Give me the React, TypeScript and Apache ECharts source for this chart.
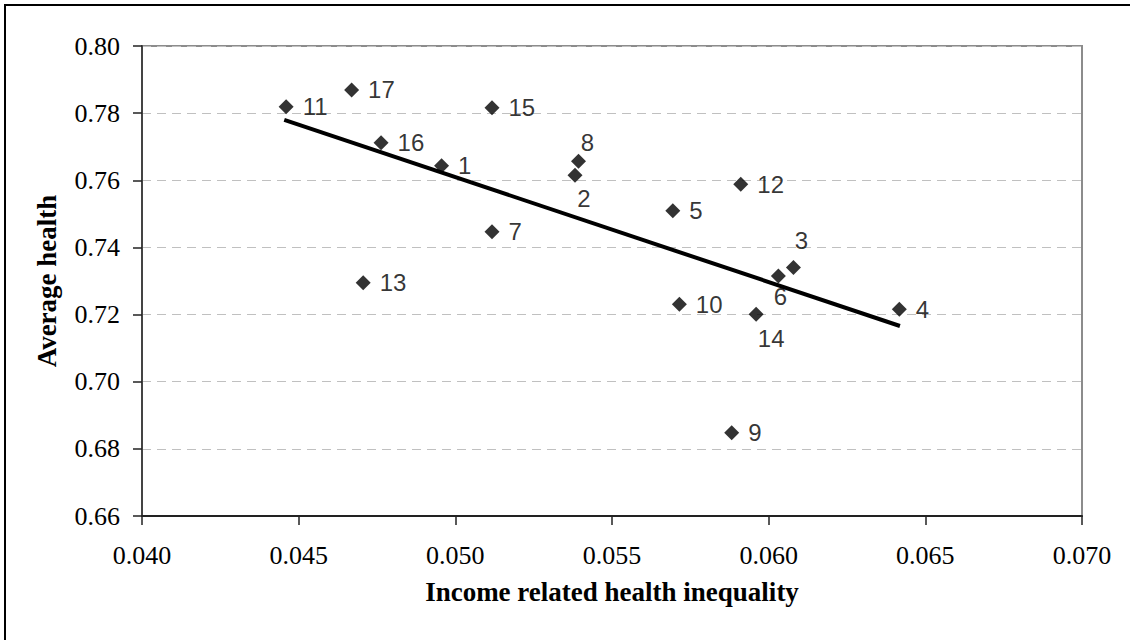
import React, { useEffect, useRef } from "react";
import * as echarts from "echarts";

// Data
const pointIds = ["1", "2", "3", "4", "5", "6", "7", "8", "9", "10", "11", "12", "13", "14", "15", "16", "17"];
const inequality = [0.04956, 0.05382, 0.06079, 0.06417, 0.05694, 0.06031, 0.05117, 0.05393, 0.05882, 0.05715, 0.0446, 0.05911, 0.04706, 0.0596, 0.05117, 0.04763, 0.04669];
const avgHealth = [0.7643, 0.7615, 0.734, 0.7216, 0.7509, 0.7315, 0.7447, 0.7657, 0.6848, 0.7231, 0.7819, 0.7588, 0.7295, 0.7201, 0.7816, 0.7712, 0.7869];
const trendX = [0.04454, 0.06419];
const trendY = [0.778, 0.7166];

const xTickLabels = ["0.040", "0.045", "0.050", "0.055", "0.060", "0.065", "0.070"];
const yTickLabels = ["0.66", "0.68", "0.70", "0.72", "0.74", "0.76", "0.78", "0.80"];

// label placement (styling) for points whose label is not to the right
const labelOffsets: Record<string, [number, number]> = {
  "8": [9, -19],
  "2": [9, 23],
  "3": [8, -27],
  "6": [2, 21],
  "14": [15, 24],
};

export default function App() {
  const ref = useRef<HTMLDivElement>(null);
  useEffect(() => {
    document.body.style.margin = "0";
    const chart = echarts.init(ref.current!, null, { renderer: "svg" });
    const serif = "Liberation Serif";
    const sans = "Liberation Sans";
    const scatterData = pointIds.map((id, i) => {
      const off = labelOffsets[id];
      const item: any = { value: [inequality[i], avgHealth[i]], name: id };
      if (off) {
        item.label = { position: "inside", offset: off, align: "center", verticalAlign: "middle" };
      }
      return item;
    });
    chart.setOption({
      animation: false,
      backgroundColor: "#ffffff",
      textStyle: { fontFamily: serif },
      grid: {
        left: 142,
        top: 46,
        right: 48,
        bottom: 124,
        show: true,
        borderColor: "#8c8c8c",
        borderWidth: 2,
        backgroundColor: "transparent",
      },
      graphic: [
        {
          type: "rect",
          shape: { x: 5, y: 5, width: 1140, height: 650 },
          style: { fill: "none", stroke: "#000", lineWidth: 2 },
          silent: true,
          z: -10,
        },
      ],
      xAxis: {
        type: "value",
        min: 0.04,
        max: 0.07,
        interval: 0.005,
        name: "Income related health inequality",
        nameLocation: "middle",
        nameGap: 62,
        nameTextStyle: { fontFamily: serif, fontWeight: "bold", fontSize: 27, color: "#000" },
        axisLine: { show: true, lineStyle: { color: "#222", width: 2 } },
        axisTick: { show: true, length: 9, lineStyle: { color: "#222", width: 1.5 } },
        axisLabel: {
          margin: 26,
          fontFamily: serif,
          fontSize: 26,
          color: "#000",
          formatter: (v: number) => xTickLabels[Math.round((v - 0.04) / 0.005)] ?? v.toFixed(3),
        },
        splitLine: { show: false },
      },
      yAxis: {
        type: "value",
        min: 0.66,
        max: 0.8,
        interval: 0.02,
        name: "Average health",
        nameLocation: "middle",
        nameGap: 82,
        nameTextStyle: { fontFamily: serif, fontWeight: "bold", fontSize: 27, color: "#000" },
        axisLine: { show: true, lineStyle: { color: "#444", width: 2 } },
        axisTick: { show: true, length: 9, lineStyle: { color: "#222", width: 1.5 } },
        axisLabel: {
          margin: 22,
          fontFamily: serif,
          fontSize: 26,
          color: "#000",
          formatter: (v: number) => yTickLabels[Math.round((v - 0.66) / 0.02)] ?? v.toFixed(2),
        },
        splitLine: { show: true, lineStyle: { color: "#c0c0c0", width: 1, type: [9, 6] } },
      },
      series: [
        {
          type: "line",
          data: trendX.map((x, i) => [x, trendY[i]]),
          showSymbol: false,
          symbol: "none",
          lineStyle: { color: "#000", width: 4 },
          z: 2,
          silent: true,
        },
        {
          type: "scatter",
          data: scatterData,
          symbol: "diamond",
          symbolSize: 15,
          itemStyle: { color: "#000" },
          z: 3,
          label: {
            show: true,
            position: "right",
            distance: 9,
            formatter: (p: any) => p.name,
            fontFamily: sans,
            fontSize: 24,
            color: "#000",
          },
        },
      ],
    });
    return () => chart.dispose();
  }, []);
  return <div ref={ref} style={{ width: 1130, height: 640 }} />;
}
